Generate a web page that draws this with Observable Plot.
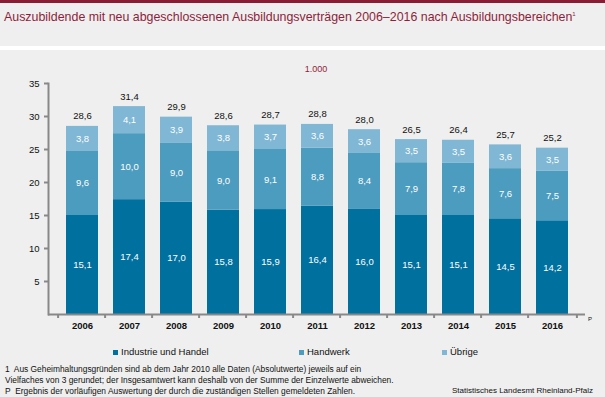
<!DOCTYPE html>
<html><head><meta charset="utf-8">
<script src="https://cdn.jsdelivr.net/npm/d3@7"></script>
<script src="https://cdn.jsdelivr.net/npm/@observablehq/plot@0.6"></script>
<style>
html,body{margin:0;padding:0;width:605px;height:397px;overflow:hidden;background:#eeefee;font-family:"Liberation Sans",Arial,sans-serif;}
#wrap{position:relative;width:605px;height:397px;}
.abs{position:absolute;white-space:nowrap;}
#topbar{left:0;top:0;width:605px;height:3px;background:#8a1c34;}
#title{left:4px;top:10px;font-size:12.4px;color:#8e1e3c;}
#white{left:0;top:46px;width:605px;height:4px;background:#fff;}
#unit{left:0;width:605px;text-align:center;top:64px;font-size:9px;color:#8e1e3c;padding-left:27px;box-sizing:border-box;}
#chart{left:0;top:60px;}
.leg{font-size:9.5px;color:#111;top:346px;}
.leg i{display:inline-block;width:5px;height:5px;margin-right:3px;vertical-align:0px;}
.fn{left:5px;font-size:8.4px;color:#111;}
#src{right:12px;top:386px;font-size:8px;color:#111;}
#p{left:588px;top:316px;font-size:6px;color:#111;}
</style></head>
<body><div id="wrap">
<div class="abs" id="topbar"></div>
<div class="abs" id="title"></div>
<div class="abs" id="white"></div>
<div class="abs" id="unit"></div>
<div class="abs" id="chart"></div>
<div class="abs" id="p">P</div>
<div id="legend"></div>
<div class="abs fn" style="top:364px">1&nbsp; Aus Geheimhaltungsgründen sind ab dem Jahr 2010 alle Daten (Absolutwerte) jeweils auf ein</div>
<div class="abs fn" style="top:375px">Vielfaches von 3 gerundet; der Insgesamtwert kann deshalb von der Summe der Einzelwerte abweichen.</div>
<div class="abs fn" style="top:386px">P&nbsp; Ergebnis der vorläufigen Auswertung der durch die zuständigen Stellen gemeldeten Zahlen.</div>
<div class="abs" id="src">Statistisches Landesmt Rheinland-Pfalz</div>
</div>
<script>
const titleText = "Auszubildende mit neu abgeschlossenen Ausbildungsverträgen 2006–2016 nach Ausbildungsbereichen";
const unitText = "1.000";
const years = ["2006","2007","2008","2009","2010","2011","2012","2013","2014","2015","2016"];
const categories = ["Industrie und Handel","Handwerk","Übrige"];
const colors = ["#00709f","#4c9cbf","#80b7d4"];
const industrie = [15.1,17.4,17.0,15.8,15.9,16.4,16.0,15.1,15.1,14.5,14.2];
const handwerk = [9.6,10.0,9.0,9.0,9.1,8.8,8.4,7.9,7.8,7.6,7.5];
const uebrige = [3.8,4.1,3.9,3.8,3.7,3.6,3.6,3.5,3.5,3.6,3.5];
const totals = [28.6,31.4,29.9,28.6,28.7,28.8,28.0,26.5,26.4,25.7,25.2];
const yTicks = [5,10,15,20,25,30,35];

document.getElementById("title").innerHTML = titleText + "<sup style='font-size:6px'>1</sup>";
document.getElementById("unit").textContent = unitText;

const series = [industrie, handwerk, uebrige];
const data = [];
categories.forEach((c, ci) => years.forEach((y, i) => data.push({year: y, cat: c, value: series[ci][i]})));
const totalData = years.map((y, i) => ({year: y, total: totals[i], top: industrie[i] + handwerk[i] + uebrige[i]}));
const fmt = v => d3.format(".1f")(v).replace(".", ",");

const W = 605, H = 280, mL = 48, mR = 20;
const step = (W - mL - mR) / years.length;

const chart = Plot.plot({
  width: W, height: H,
  marginLeft: mL, marginRight: mR, marginTop: 23, marginBottom: 26,
  style: {background: "transparent", fontFamily: "Liberation Sans, Arial, sans-serif", fontSize: "9.5px", color: "#111"},
  x: {domain: years, padding: 0.32, label: null},
  y: {domain: [0, 35], label: null},
  color: {domain: categories, range: colors},
  marks: [
    Plot.barY(data, {x: "year", y: "value", fill: "cat", z: "cat"}),
    Plot.text(data, Plot.stackY({x: "year", y: "value", z: "cat", text: d => fmt(d.value), fill: "white", fontSize: 9.5})),
    Plot.text(totalData, {x: "year", y: "top", text: d => fmt(d.total), dy: -10, fill: "#111", fontSize: 9.5}),
    Plot.axisY({ticks: yTicks, tickSize: 4, tickPadding: 5, stroke: "#888", strokeWidth: 2, tickFormat: d => String(d), fontSize: 9.5, fill: "#111"}),
    Plot.axisX({tickSize: 0, tickPadding: 8, fontSize: 9.5, fill: "#111", fontWeight: "bold"}),
    Plot.axisX({tickSize: 4, text: null, dx: -step / 2, stroke: "#888", strokeWidth: 2}),
    Plot.axisX({ticks: years.slice(-1), tickSize: 4, text: null, dx: step / 2, stroke: "#888", strokeWidth: 2}),
    Plot.ruleY([0], {stroke: "#888", strokeWidth: 2}),
    Plot.frame({anchor: "left", stroke: "#888", strokeWidth: 2})
  ]
});
document.getElementById("chart").appendChild(chart);

const legX = [113, 299, 442];
const leg = document.getElementById("legend");
categories.forEach((c, i) => {
  const d = document.createElement("div");
  d.className = "abs leg";
  d.style.left = legX[i] + "px";
  d.innerHTML = `<i style="background:${colors[i]}"></i>${c}`;
  leg.appendChild(d);
});
</script>
</body></html>
